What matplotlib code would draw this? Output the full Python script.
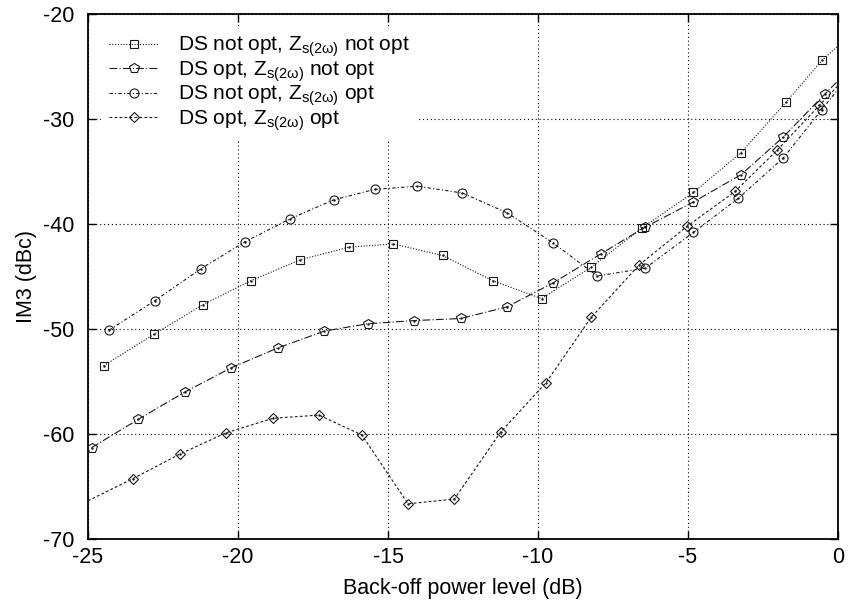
import matplotlib
matplotlib.use('Agg')
import matplotlib.pyplot as plt

plt.rcParams['font.family'] = ['Liberation Sans', 'DejaVu Sans']
plt.rcParams['mathtext.fontset'] = 'custom'
plt.rcParams['mathtext.rm'] = 'Liberation Sans'
plt.rcParams['mathtext.it'] = 'Liberation Sans:italic'
plt.rcParams['axes.unicode_minus'] = False

# values (back-off in dB, IM3 in dBc)
# squares: DS not opt, Zs(2w) not opt
x_sq = [-24.48, -22.8, -21.18, -19.57, -17.92, -16.3, -14.82, -13.18, -11.51, -9.88,
        -8.22, -6.52, -4.82, -3.23, -1.73, -0.53, 1.0]
y_sq = [-53.5, -50.5, -47.7, -45.4, -43.4, -42.2, -41.9, -43.0, -45.4, -47.1,
        -44.1, -40.35, -37.0, -33.2, -28.4, -24.4, -20.5]

# pentagons: DS opt, Zs(2w) not opt
x_pe = [-24.88, -23.32, -21.77, -20.23, -18.67, -17.12, -15.68, -14.13, -12.58, -11.04,
        -9.49, -7.91, -6.43, -4.82, -3.23, -1.82, -0.43, 1.0]
y_pe = [-61.3, -58.6, -56.0, -53.7, -51.8, -50.2, -49.5, -49.2, -49.0, -47.9,
        -45.6, -42.85, -40.3, -37.9, -35.3, -31.7, -27.6, -23.5]

# circles: DS not opt, Zs(2w) opt
x_ci = [-24.29, -22.77, -21.23, -19.77, -18.26, -16.81, -15.44, -14.02, -12.52, -11.02,
        -9.5, -8.02, -6.42, -4.82, -3.32, -1.82, -0.54, 1.0]
y_ci = [-50.1, -47.3, -44.25, -41.7, -39.5, -37.7, -36.7, -36.4, -37.05, -38.95,
        -41.8, -44.95, -44.2, -40.8, -37.55, -33.7, -29.1, -23.6]

# diamonds: DS opt, Zs(2w) opt
x_di = [-25.6, -23.5, -21.93, -20.41, -18.83, -17.3, -15.87, -14.33, -12.79, -11.24,
        -9.73, -8.23, -6.63, -5.02, -3.43, -2.04, -0.62, 1.0]
y_di = [-67.2, -64.25, -61.9, -59.9, -58.5, -58.2, -60.1, -66.65, -66.2, -59.8,
        -55.1, -48.9, -43.9, -40.2, -36.9, -33.0, -28.7, -23.8]

labels = [r'DS not opt, Z$_{\mathrm{s(2\omega)}}$ not opt',
          r'DS opt, Z$_{\mathrm{s(2\omega)}}$ not opt',
          r'DS not opt, Z$_{\mathrm{s(2\omega)}}$ opt',
          r'DS opt, Z$_{\mathrm{s(2\omega)}}$ opt']

fig = plt.figure(figsize=(8.48, 6.01), dpi=100)
ax = fig.add_axes([88/848, 1-539/601, 750/848, 525/601])

col = '#1a1a1a'
series = [
    (x_sq, y_sq, 's', (0, (1, 1.5)), 6.0),
    (x_pe, y_pe, 'p', (0, (7, 2, 1, 2)), 7.0),
    (x_ci, y_ci, 'o', (0, (3, 2, 1, 2)), 6.5),
    (x_di, y_di, 'D', (0, (2.5, 2)), 4.8),
]
for (xs, ys, m, ls, ms), lab in zip(series, labels):
    ax.plot(xs, ys, color=col, lw=0.8, linestyle=ls, marker=m, markersize=ms,
            markerfacecolor='none', markeredgecolor=col, markeredgewidth=0.8,
            label=lab, zorder=3)
    ax.plot(xs, ys, linestyle='none', marker='.', markersize=1.5, color=col, zorder=4)

ax.set_xlim(-25, 0)
ax.set_ylim(-70, -20)
ax.set_xticks([-25, -20, -15, -10, -5, 0])
ax.set_yticks([-70, -60, -50, -40, -30, -20])
ax.grid(True, color='black', linestyle=(0, (1, 2.5)), linewidth=0.8, zorder=1)
ax.set_axisbelow(True)

ax.tick_params(direction='in', length=6, width=1, top=True, right=True,
               labelsize=15.5)
ax.tick_params(axis='x', pad=6)
ax.tick_params(axis='y', pad=10)
for s in ax.spines.values():
    s.set_linewidth(1.3)

ax.set_xlabel('Back-off power level (dB)', fontsize=15.5, labelpad=7)
ax.set_ylabel('IM3 (dBc)', fontsize=15.5, labelpad=4)

leg = ax.legend(loc='upper left', fontsize=15, handlelength=2.4, handletextpad=0.9,
                labelspacing=0.0, borderpad=0.4, frameon=True, fancybox=False,
                framealpha=1.0, borderaxespad=0.6)
leg.get_frame().set_edgecolor('none')
leg.get_frame().set_facecolor('white')
leg.set_zorder(5)

fig.savefig('out.png', dpi=100)
